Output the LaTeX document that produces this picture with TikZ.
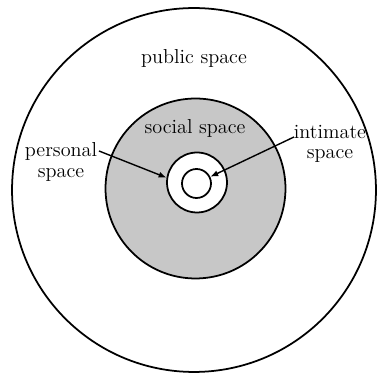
\documentclass[tikz,border=0pt]{standalone}
\usepackage{tikz}
\usetikzlibrary{arrows.meta}

\begin{document}
\begin{tikzpicture}[
        x=0.02cm, y=0.02cm,
        ring/.style={draw, circle, line width=1pt, inner sep=0pt},
        lbl/.style={font=\fontsize{11.5}{11.5}\selectfont, align=center, inner sep=1pt},
        arr/.style={-{Latex[length=4.5pt, width=3.5pt]}, line width=0.8pt}
      ]
      \useasboundingbox (0,0) rectangle (380,379);

      % rings, from outside in
      \node[ring, minimum size=7.28cm]                  (pub)  at (194,189)   {};
      \node[ring, minimum size=3.6cm, fill=black!22]    (soc)  at (195.5,190.5) {};
      \node[ring, minimum size=1.2cm, fill=white]       (pers) at (197,196.5) {};
      \node[ring, minimum size=0.58cm]                  (inti) at (196.5,195.5) {};

      % labels
      \node[lbl] (publbl)  at (194,321) {public space};
      \node[lbl] (soclbl)  at (195,251) {social space};
      \node[lbl] (perslbl) at (61,217)  {personal\\space};
      \node[lbl] (intilbl) at (330,235) {intimate\\space};

      % pointers
      \coordinate (pstart) at (99,228);
      \coordinate (istart) at (294,242);
      \draw[arr] (pstart) -- (pers.171);
      \draw[arr] (istart) -- (inti.26);
    \end{tikzpicture}
\end{document}
